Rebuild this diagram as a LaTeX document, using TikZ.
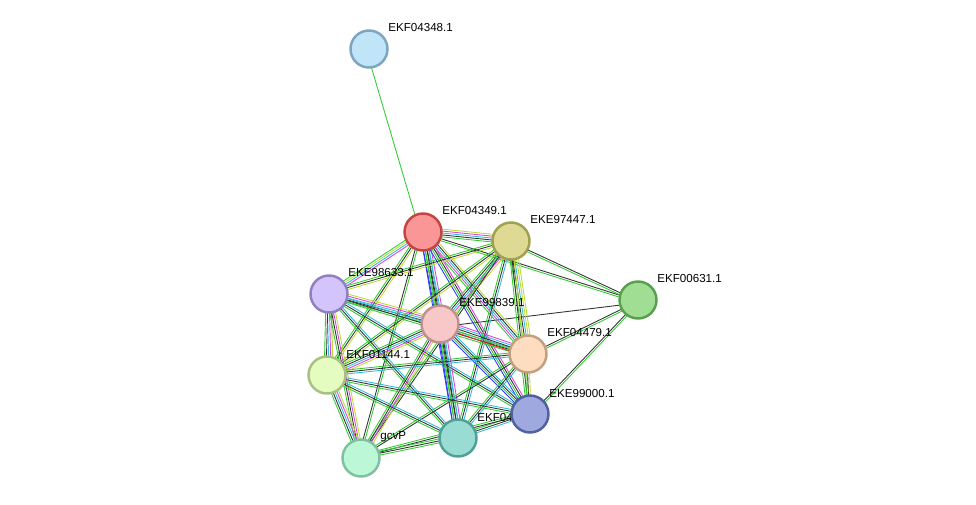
\documentclass[tikz,border=0pt]{standalone}
\usepackage{fontspec}
\setmainfont{Liberation Sans}
\usetikzlibrary{calc}
\definecolor{sgreen}{HTML}{33CC33}
\definecolor{sblue}{HTML}{3333FF}
\definecolor{scyan}{HTML}{33BBDD}
\definecolor{smag}{HTML}{DD44DD}
\definecolor{solive}{HTML}{BBDD33}
\definecolor{sred}{HTML}{EE2222}
\definecolor{sblack}{HTML}{333333}
\definecolor{d48}{RGB}{122,166,192}\definecolor{f48}{RGB}{192,228,248}
\definecolor{d49}{RGB}{196,68,68}\definecolor{f49}{RGB}{250,150,150}
\definecolor{d47}{RGB}{160,160,80}\definecolor{f47}{RGB}{222,218,148}
\definecolor{d31}{RGB}{90,158,80}\definecolor{f31}{RGB}{160,222,148}
\definecolor{d33}{RGB}{144,128,192}\definecolor{f33}{RGB}{212,196,252}
\definecolor{d39}{RGB}{192,144,144}\definecolor{f39}{RGB}{248,200,200}
\definecolor{d79}{RGB}{192,160,128}\definecolor{f79}{RGB}{254,220,192}
\definecolor{d44}{RGB}{168,192,128}\definecolor{f44}{RGB}{228,252,192}
\definecolor{d00}{RGB}{80,96,160}\definecolor{f00}{RGB}{160,168,224}
\definecolor{d4x}{RGB}{80,160,152}\definecolor{f4x}{RGB}{152,220,212}
\definecolor{dgc}{RGB}{128,192,160}\definecolor{fgc}{RGB}{188,248,216}
\newcommand{\bundle}[3]{%
  \foreach \c [count=\i] in {#3} {%
    \draw[\c, line width=0.5pt] ($(#1)!{(\i-2.5)*1.1pt}!90:(#2)$) -- ($(#2)!{(\i-2.5)*1.1pt}!-90:(#1)$);
  }}
\tikzset{
protein/.style={circle, draw=d#1, fill=f#1, line width=1.4pt, minimum size=0.74cm, inner sep=0pt},
lbl/.style={anchor=west, inner sep=0pt, font=\fontsize{6.6}{7}\selectfont},
}
\begin{document}
\begin{tikzpicture}[x=0.02cm, y=-0.02cm]
\useasboundingbox (0,0) rectangle (976,504);
\coordinate (p48) at (369,49);
\coordinate (p49) at (423,232);
\coordinate (p47) at (511,241);
\coordinate (p31) at (638,300);
\coordinate (p33) at (329,294);
\coordinate (p39) at (440,324);
\coordinate (p79) at (528,354);
\coordinate (p44) at (327,375);
\coordinate (p00) at (530,414);
\coordinate (p4x) at (458,438);
\coordinate (pgc) at (361,458);
% edges
\bundle{p48}{p49}{sgreen}
\bundle{p49}{p31}{sgreen,sblack}
\bundle{p47}{p31}{sgreen,sblack}
\bundle{p39}{p31}{sblack}
\bundle{p79}{p31}{sgreen,sblack}
\bundle{p00}{p31}{sgreen,sblack}
\bundle{p49}{p47}{sgreen,sblack,scyan,smag,solive}
\bundle{p49}{p33}{sgreen,solive,scyan,smag}
\bundle{p49}{p39}{sblue,sgreen,sblack,scyan,smag}
\bundle{p49}{p79}{sgreen,smag,scyan,sblack,solive}
\bundle{p49}{p44}{sgreen,sblack,solive}
\bundle{p49}{p00}{sblue,sgreen,sblack,smag}
\bundle{p49}{p4x}{sblue,sgreen,sblack,scyan}
\bundle{p49}{pgc}{sblack,sgreen}
\bundle{p47}{p33}{sgreen,sblack,solive}
\bundle{p47}{p39}{sgreen,sblack,scyan,smag,solive}
\bundle{p47}{p79}{sgreen,sblack,scyan,solive,solive}
\bundle{p47}{p44}{sgreen,sblack,solive}
\bundle{p47}{p00}{sgreen,sblack,solive}
\bundle{p47}{p4x}{sgreen,sblack,scyan}
\bundle{p47}{pgc}{sgreen,sblack}
\bundle{p33}{p39}{sgreen,sblack,scyan,smag,solive}
\bundle{p33}{p79}{sgreen,sblack,scyan}
\bundle{p33}{p44}{sgreen,sblack,scyan,smag,solive}
\bundle{p33}{p00}{sgreen,sblack,scyan}
\bundle{p33}{p4x}{sgreen,sblack,scyan}
\bundle{p33}{pgc}{sgreen,sblack,smag,solive}
\bundle{p39}{p79}{sred,sgreen,sblack,scyan,smag}
\bundle{p39}{p44}{sgreen,sblack,scyan,smag,solive}
\bundle{p39}{p00}{sblue,sgreen,sblack,scyan}
\bundle{p39}{p4x}{sblue,sgreen,sblack,scyan,smag}
\bundle{p39}{pgc}{sgreen,sblack,smag,solive}
\bundle{p79}{p44}{sgreen,sblack,scyan}
\bundle{p79}{p00}{sgreen,sblack,solive}
\bundle{p79}{p4x}{sgreen,sblack,scyan}
\bundle{p79}{pgc}{sgreen,sblack}
\bundle{p44}{p00}{sgreen,sblack,scyan}
\bundle{p44}{p4x}{sgreen,sblack,scyan}
\bundle{p44}{pgc}{sgreen,sblack,scyan,smag,solive}
\bundle{p00}{p4x}{sgreen,sblack,scyan}
\bundle{p00}{pgc}{sgreen,sblack}
\bundle{p4x}{pgc}{sgreen,sblack,sgreen}
% proteins
\node[protein=48] (n48) at (p48) {};
\node[protein=49] (n49) at (p49) {};
\node[protein=47] (n47) at (p47) {};
\node[protein=31] (n31) at (p31) {};
\node[protein=33] (n33) at (p33) {};
\node[protein=39] (n39) at (p39) {};
\node[protein=79] (n79) at (p79) {};
\node[protein=44] (n44) at (p44) {};
\node[lbl] at ($(p4x)+(19,-21)$) {EKF04};
\node[protein=00] (n00) at (p00) {};
\node[protein=4x] (n4x) at (p4x) {};
\node[protein=gc] (ngc) at (pgc) {};
% labels
\node[lbl] at ($(p48)+(19,-21)$) {EKF04348.1};
\node[lbl] at ($(p49)+(19,-21)$) {EKF04349.1};
\node[lbl] at ($(p47)+(19,-21)$) {EKE97447.1};
\node[lbl] at ($(p31)+(19,-21)$) {EKF00631.1};
\node[lbl] at ($(p33)+(19,-21)$) {EKE98633.1};
\node[lbl] at ($(p39)+(19,-21)$) {EKE99839.1};
\node[lbl] at ($(p79)+(19,-21)$) {EKF04479.1};
\node[lbl] at ($(p44)+(19,-21)$) {EKF01144.1};
\node[lbl] at ($(p00)+(19,-21)$) {EKE99000.1};
\node[lbl] at ($(pgc)+(19,-21)$) {gcvP};
\end{tikzpicture}
\end{document}
